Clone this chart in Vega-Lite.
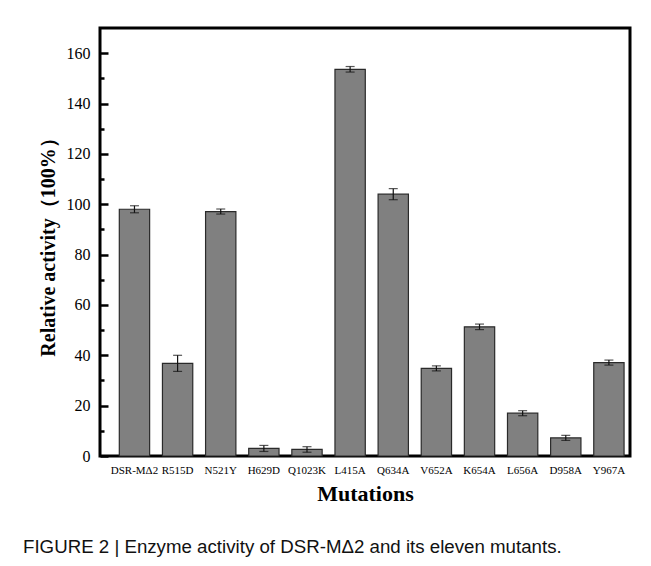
{
  "$schema": "https://vega.github.io/schema/vega-lite/v6.json",
  "width": 530,
  "height": 428,
  "autosize": {"type": "none"},
  "padding": {"left": 100, "top": 28, "right": 21, "bottom": 110},
  "background": "white",
  "config": {
    "view": {"stroke": "#000", "strokeWidth": 3},
    "font": "Liberation Serif",
    "axis": {"labelFont": "Liberation Serif", "titleFont": "Liberation Serif"}
  },
  "title": {
    "text": "FIGURE 2 | Enzyme activity of DSR-MΔ2 and its eleven mutants.",
    "orient": "bottom",
    "anchor": "start",
    "frame": "bounds",
    "font": "Liberation Sans",
    "fontSize": 18.7,
    "fontWeight": "normal",
    "color": "#111",
    "offset": 34,
    "dx": -15
  },
  "data": {
    "values": [
      {"mutation": "DSR-MΔ2", "activity": 98.0, "err": 1.4},
      {"mutation": "R515D", "activity": 36.8, "err": 3.2},
      {"mutation": "N521Y", "activity": 97.1, "err": 1.0},
      {"mutation": "H629D", "activity": 3.0, "err": 1.2},
      {"mutation": "Q1023K", "activity": 2.6, "err": 1.1},
      {"mutation": "L415A", "activity": 153.6, "err": 1.1},
      {"mutation": "Q634A", "activity": 104.0, "err": 2.2},
      {"mutation": "V652A", "activity": 34.8, "err": 1.0},
      {"mutation": "K654A", "activity": 51.3, "err": 1.1},
      {"mutation": "L656A", "activity": 17.0, "err": 1.0},
      {"mutation": "D958A", "activity": 7.2, "err": 1.0},
      {"mutation": "Y967A", "activity": 37.1, "err": 1.0}
    ]
  },
  "encoding": {
    "x": {
      "field": "mutation",
      "type": "nominal",
      "sort": null,
      "scale": {"paddingInner": 0.297, "paddingOuter": 0.2926, "align": 0.765},
      "axis": {
        "title": "Mutations",
        "titleFont": "Liberation Serif",
        "titleFontSize": 22,
        "titleFontWeight": "bold",
        "titleColor": "#000",
        "titlePadding": 8,
        "labelAngle": 0,
        "labelFont": "Liberation Serif",
        "labelFontSize": 11,
        "labelColor": "#000",
        "labelPadding": 8,
        "ticks": false,
        "domain": false
      }
    }
  },
  "layer": [
    {
      "mark": {"type": "bar", "color": "#808080", "stroke": "#2a2a2a", "strokeWidth": 1.2},
      "encoding": {
        "y": {
          "field": "activity",
          "type": "quantitative",
          "scale": {"domain": [0, 170], "nice": false},
          "axis": {
            "orient": "left",
            "offset": -8,
            "title": "Relative activity（100%）",
            "titleFont": "Liberation Serif",
            "titleFontSize": 20,
            "titleFontWeight": "bold",
            "titleColor": "#000",
            "titlePadding": 8,
            "values": [0, 20, 40, 60, 80, 100, 120, 140, 160],
            "labelFont": "Times New Roman",
            "labelFontWeight": "normal",
            "labelFontSize": 16,
            "labelColor": "#000",
            "labelPadding": 10,
            "tickSize": 8,
            "tickWidth": 2.5,
            "tickColor": "#000",
            "grid": false,
            "domain": false
          }
        }
      }
    },
    {
      "mark": {"type": "errorbar", "ticks": {"size": 9, "color": "#111"}, "rule": {"color": "#111"}, "thickness": 1.2},
      "encoding": {
        "y": {
          "field": "activity",
          "type": "quantitative",
          "axis": {
            "orient": "left",
            "offset": -4,
            "title": null,
            "values": [10, 30, 50, 70, 90, 110, 130, 150],
            "labels": false,
            "tickSize": 4,
            "tickWidth": 2.5,
            "tickColor": "#000",
            "grid": false,
            "domain": false
          }
        },
        "yError": {"field": "err"}
      }
    }
  ],
  "resolve": {"axis": {"y": "independent"}}
}
